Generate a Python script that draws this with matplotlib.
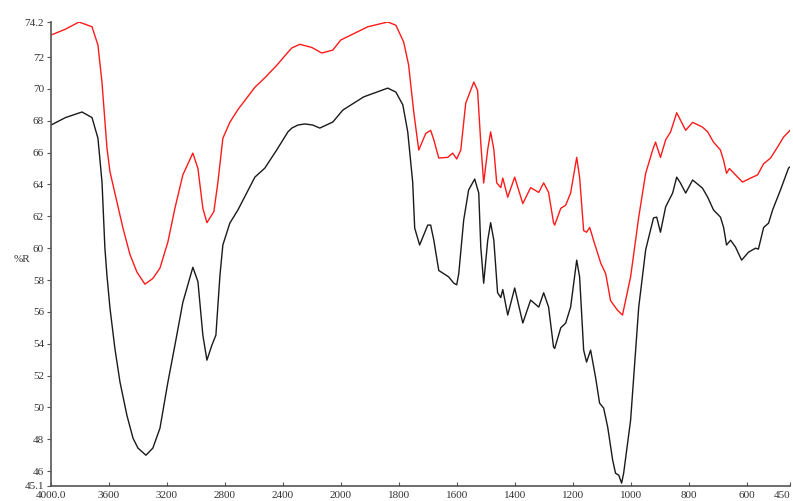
import numpy as np
import matplotlib
matplotlib.use("Agg")
import matplotlib.pyplot as plt

# FTIR spectra, wavenumber (cm-1) vs %R
wn_red = [4000, 3900, 3807, 3717, 3676, 3648, 3614, 3593, 3545, 3503, 3455, 3407, 3352,
          3297, 3248, 3193, 3145, 3090, 3021, 2986, 2952, 2924, 2876, 2848, 2814, 2766,
          2710, 2593, 2524, 2440, 2365, 2338, 2283, 2200, 2131, 2055, 2000, 1907, 1838,
          1810, 1783, 1766, 1748, 1731, 1707, 1690, 1679, 1662, 1631, 1614, 1600, 1586,
          1569, 1541, 1528, 1517, 1507, 1493, 1483, 1472, 1462, 1448, 1441, 1424, 1400,
          1372, 1345, 1317, 1300, 1283, 1266, 1262, 1241, 1224, 1207, 1186, 1176, 1162,
          1152, 1141, 1128, 1103, 1086, 1069, 1045, 1028, 1000, 972, 948, 924, 914, 897,
          879, 862, 841, 828, 810, 786, 752, 734, 714, 690, 679, 669, 659, 638, 614, 586,
          562, 541, 517, 493, 472, 455, 450]
r_red = [73.38, 73.75, 74.2, 73.9, 72.75, 70.4, 66.3, 64.8, 62.9, 61.25, 59.6, 58.5, 57.74,
         58.1, 58.75, 60.4, 62.5, 64.6, 65.97, 65.0, 62.5, 61.6, 62.3, 64.15, 66.9, 67.9,
         68.7, 70.1, 70.7, 71.5, 72.3, 72.57, 72.8, 72.6, 72.25, 72.44, 73.07, 73.9, 74.2,
         74.0, 72.94, 71.5, 68.5, 66.16, 67.2, 67.4, 66.8, 65.66, 65.7, 65.97, 65.6, 66.16,
         69.1, 70.43, 69.9, 66.6, 64.09, 66.2, 67.3, 66.2, 64.1, 63.8, 64.4, 63.2, 64.46,
         62.8, 63.8, 63.5, 64.1, 63.5, 61.6, 61.45, 62.5, 62.7, 63.46, 65.7, 64.46, 61.1,
         61.0, 61.3, 60.5, 59.06, 58.4, 56.7, 56.1, 55.8, 58.2, 61.95, 64.7, 66.16, 66.66, 65.7,
         66.8, 67.3, 68.5, 68.04, 67.4, 67.9, 67.6, 67.3, 66.66, 66.16, 65.5, 64.7, 65.0, 64.6, 64.15, 64.4,
         64.6, 65.3, 65.66, 66.35, 66.98, 67.3, 67.4]

wn_blk = [4000, 3900, 3786, 3717, 3676, 3648, 3628, 3614, 3593, 3559, 3524, 3476, 3434,
          3400, 3345, 3297, 3248, 3193, 3145, 3090, 3021, 2986, 2952, 2924, 2890, 2862,
          2834, 2814, 2766, 2710, 2593, 2524, 2440, 2365, 2338, 2296, 2248, 2193, 2145,
          2055, 1993, 1921, 1838, 1810, 1786, 1769, 1752, 1745, 1728, 1700, 1690, 1679,
          1662, 1628, 1610, 1600, 1593, 1576, 1559, 1538, 1524, 1517, 1507, 1493, 1483,
          1472, 1459, 1448, 1441, 1424, 1400, 1372, 1345, 1317, 1300, 1283, 1266, 1262,
          1241, 1224, 1207, 1186, 1176, 1162, 1152, 1138, 1121, 1107, 1093, 1079, 1062,
          1052, 1041, 1031, 1024, 1000, 972, 948, 921, 910, 897, 879, 855, 841, 828, 810,
          786, 752, 734, 714, 690, 679, 669, 655, 638, 617, 593, 569, 559, 541, 524, 510,
          483, 455, 450]
r_blk = [67.73, 68.2, 68.55, 68.2, 66.9, 64.15, 60.0, 58.3, 56.24, 53.7, 51.6, 49.5, 48.07,
         47.45, 47.0, 47.45, 48.7, 51.6, 53.9, 56.6, 58.8, 57.9, 54.54, 52.97, 53.9, 54.54,
         58.3, 60.2, 61.57, 62.4, 64.46, 65.03, 66.2, 67.3, 67.54, 67.73, 67.8, 67.73, 67.54,
         67.92, 68.67, 69.5, 70.05, 69.8, 69.0, 67.3, 64.15, 61.26, 60.2, 61.45, 61.45, 60.5,
         58.6, 58.2, 57.8, 57.7, 58.4, 61.76, 63.65, 64.34, 63.46, 60.07, 57.8, 60.5, 61.6,
         60.5, 57.2, 56.9, 57.4, 55.8, 57.5, 55.3, 56.74, 56.3, 57.2, 56.3, 53.8, 53.7,
         55.0, 55.3, 56.3, 59.25, 58.2, 53.6, 52.85, 53.6, 51.9, 50.27, 49.96, 48.76, 46.7,
         45.87, 45.75, 45.25, 45.87, 49.2, 56.3, 59.9, 61.9, 61.95, 61.0, 62.6, 63.46, 64.46, 64.09, 63.46,
         64.28, 63.77, 63.2, 62.4, 61.95, 61.3, 60.2, 60.5, 60.07, 59.25, 59.75, 60.0, 59.94, 61.3, 61.57, 62.4,
         63.65, 65.03, 65.1]

xticks = [4000, 3600, 3200, 2800, 2400, 2000, 1800, 1600, 1400, 1200, 1000, 800, 600, 450]
xlabels = ["4000.0", "3600", "3200", "2800", "2400", "2000", "1800", "1600", "1400",
           "1200", "1000", "800", "600", "450"]
yticks = [45.1, 46, 48, 50, 52, 54, 56, 58, 60, 62, 64, 66, 68, 70, 72, 74.2]


# below 2000 cm-1 the axis is stretched two-fold
def fwd(x):
    x = np.asarray(x, dtype=float)
    return np.where(x >= 2000, (x - 2000) / 400.0, (x - 2000) / 200.0)


def inv(u):
    u = np.asarray(u, dtype=float)
    return np.where(u >= 0, 2000 + 400.0 * u, 2000 + 200.0 * u)


plt.rcParams['font.family'] = ['Liberation Serif', 'DejaVu Serif']

fig = plt.figure(figsize=(7.93, 5.01), dpi=100)
ax = fig.add_axes([51 / 793, 1 - 485.5 / 501, (790 - 51) / 793, (485.5 - 22) / 501])
ax.set_xscale('function', functions=(fwd, inv))

ax.plot(wn_red, r_red, color='#ff1a1a', lw=1.0)
ax.plot(wn_blk, r_blk, color='#1a1a1a', lw=1.0)

ax.set_xlim(4000, 450)
ax.set_ylim(45.1, 74.2)
ax.set_xticks(xticks)
ax.set_xticklabels(xlabels)
ax.set_yticks(yticks)
ax.set_yticklabels([str(v) if v in (45.1, 74.2) else str(int(v)) for v in yticks])
ax.minorticks_off()
# last label would run off the right edge
ax.get_xticklabels()[-1].set_horizontalalignment('right')

for s in ['top', 'right']:
    ax.spines[s].set_visible(False)
for s in ['left', 'bottom']:
    ax.spines[s].set_color('#555555')
    ax.spines[s].set_linewidth(1.2)

ax.tick_params(axis='x', direction='in', length=3, width=0.8, colors='#555555',
               labelcolor='#333333', labelsize=8, pad=4)
ax.tick_params(axis='y', direction='out', length=3, width=0.8, colors='#555555',
               labelcolor='#333333', labelsize=8, pad=2)

fig.text(14 / 793, 1 - 260 / 501, '%R', fontsize=8, color='#333333', va='center')

fig.savefig('out.png', dpi=100)
